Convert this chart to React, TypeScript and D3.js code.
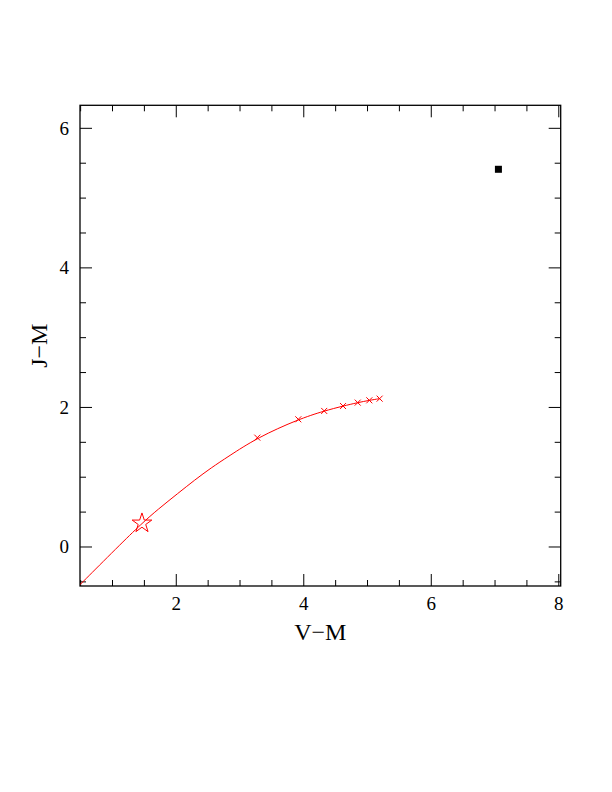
import React from "react";
import * as d3 from "d3";

const curveX = [0.49, 1.085, 1.462, 1.713, 2.027, 2.289, 2.549, 2.811, 3.271, 3.914, 4.32, 4.616, 4.846, 5.028, 5.19];
const curveY = [-0.54, 0.004, 0.34, 0.54, 0.769, 0.96, 1.136, 1.294, 1.567, 1.83, 1.95, 2.02, 2.069, 2.102, 2.126];
const crossX = [3.271, 3.914, 4.32, 4.616, 4.846, 5.028, 5.19];
const crossY = [1.567, 1.83, 1.95, 2.02, 2.069, 2.102, 2.126];
const starPoint = [1.462, 0.34];
const squarePoint = [7.053, 5.413];
const xMajor = [2, 4, 6, 8];
const yMajor = [0, 2, 4, 6];
const xMinor = [0.5, 1, 1.5, 2.5, 3, 3.5, 4.5, 5, 5.5, 6.5, 7, 7.5];
const yMinor = [-0.5, 0.5, 1, 1.5, 2.5, 3, 3.5, 4.5, 5, 5.5];

const L = 80, R = 560.7, T = 105.3, B = 586;

export default function App() {
  const x = d3.scaleLinear().domain([0.49, 8.03]).range([L, R]);
  const y = d3.scaleLinear().domain([-0.559, 6.33]).range([B, T]);
  const pts: [number, number][] = curveX.map((v, i) => [x(v), y(curveY[i])]);
  const line = d3.line().curve(d3.curveBasis)(pts) || "";
  const star = d3.symbol().type(d3.symbolStar).size(120)() || "";
  const font = "'Liberation Serif', 'DejaVu Serif', serif";
  const maj = 12, min = 6;
  return (
    <svg width={612} height={792} style={{ position: "absolute", left: 0, top: 0, background: "#fff" }}>
      <rect x={0} y={0} width={612} height={792} fill="#fff" />
      <defs>
        <clipPath id="clip"><rect x={L} y={T} width={R - L} height={B - T} /></clipPath>
      </defs>
      <g stroke="#000" strokeWidth={1}>
        {xMajor.map((v) => (
          <g key={"xm" + v}>
            <line x1={x(v)} x2={x(v)} y1={B} y2={B - maj} />
            <line x1={x(v)} x2={x(v)} y1={T} y2={T + maj} />
          </g>
        ))}
        {xMinor.map((v) => (
          <g key={"xn" + v}>
            <line x1={x(v)} x2={x(v)} y1={B} y2={B - min} />
            <line x1={x(v)} x2={x(v)} y1={T} y2={T + min} />
          </g>
        ))}
        {yMajor.map((v) => (
          <g key={"ym" + v}>
            <line x1={L} x2={L + maj} y1={y(v)} y2={y(v)} />
            <line x1={R} x2={R - maj} y1={y(v)} y2={y(v)} />
          </g>
        ))}
        {yMinor.map((v) => (
          <g key={"yn" + v}>
            <line x1={L} x2={L + min} y1={y(v)} y2={y(v)} />
            <line x1={R} x2={R - min} y1={y(v)} y2={y(v)} />
          </g>
        ))}
      </g>
      <rect x={L} y={T} width={R - L} height={B - T} fill="none" stroke="#000" strokeWidth={1.3} />
      <g fontFamily={font} fontSize={19} fill="#000">
        {xMajor.map((v) => (
          <text key={"xl" + v} x={x(v)} y={610} textAnchor="middle">{v}</text>
        ))}
        {yMajor.map((v) => (
          <text key={"yl" + v} x={69} y={y(v) + 6.5} textAnchor="end">{v}</text>
        ))}
      </g>
      <text x={(L + R) / 2} y={640} textAnchor="middle" fontFamily={font} fontSize={24}>V−M</text>
      <text transform={`translate(47,${(T + B) / 2}) rotate(-90)`} textAnchor="middle" fontFamily={font} fontSize={24}>J−M</text>
      <g clipPath="url(#clip)">
        <path d={line} fill="none" stroke="#f00" strokeWidth={1} />
      </g>
      {crossX.map((v, i) => (
        <g key={"c" + i} transform={`translate(${x(v)},${y(crossY[i])})`} stroke="#f00" strokeWidth={1}>
          <line x1={-3} y1={-3} x2={3} y2={3} />
          <line x1={-3} y1={3} x2={3} y2={-3} />
        </g>
      ))}
      <path d={star} transform={`translate(${x(starPoint[0])},${y(starPoint[1])})`} fill="none" stroke="#f00" strokeWidth={1} />
      <rect x={x(squarePoint[0]) - 3.5} y={y(squarePoint[1]) - 3.5} width={7} height={7} fill="#000" />
    </svg>
  );
}
